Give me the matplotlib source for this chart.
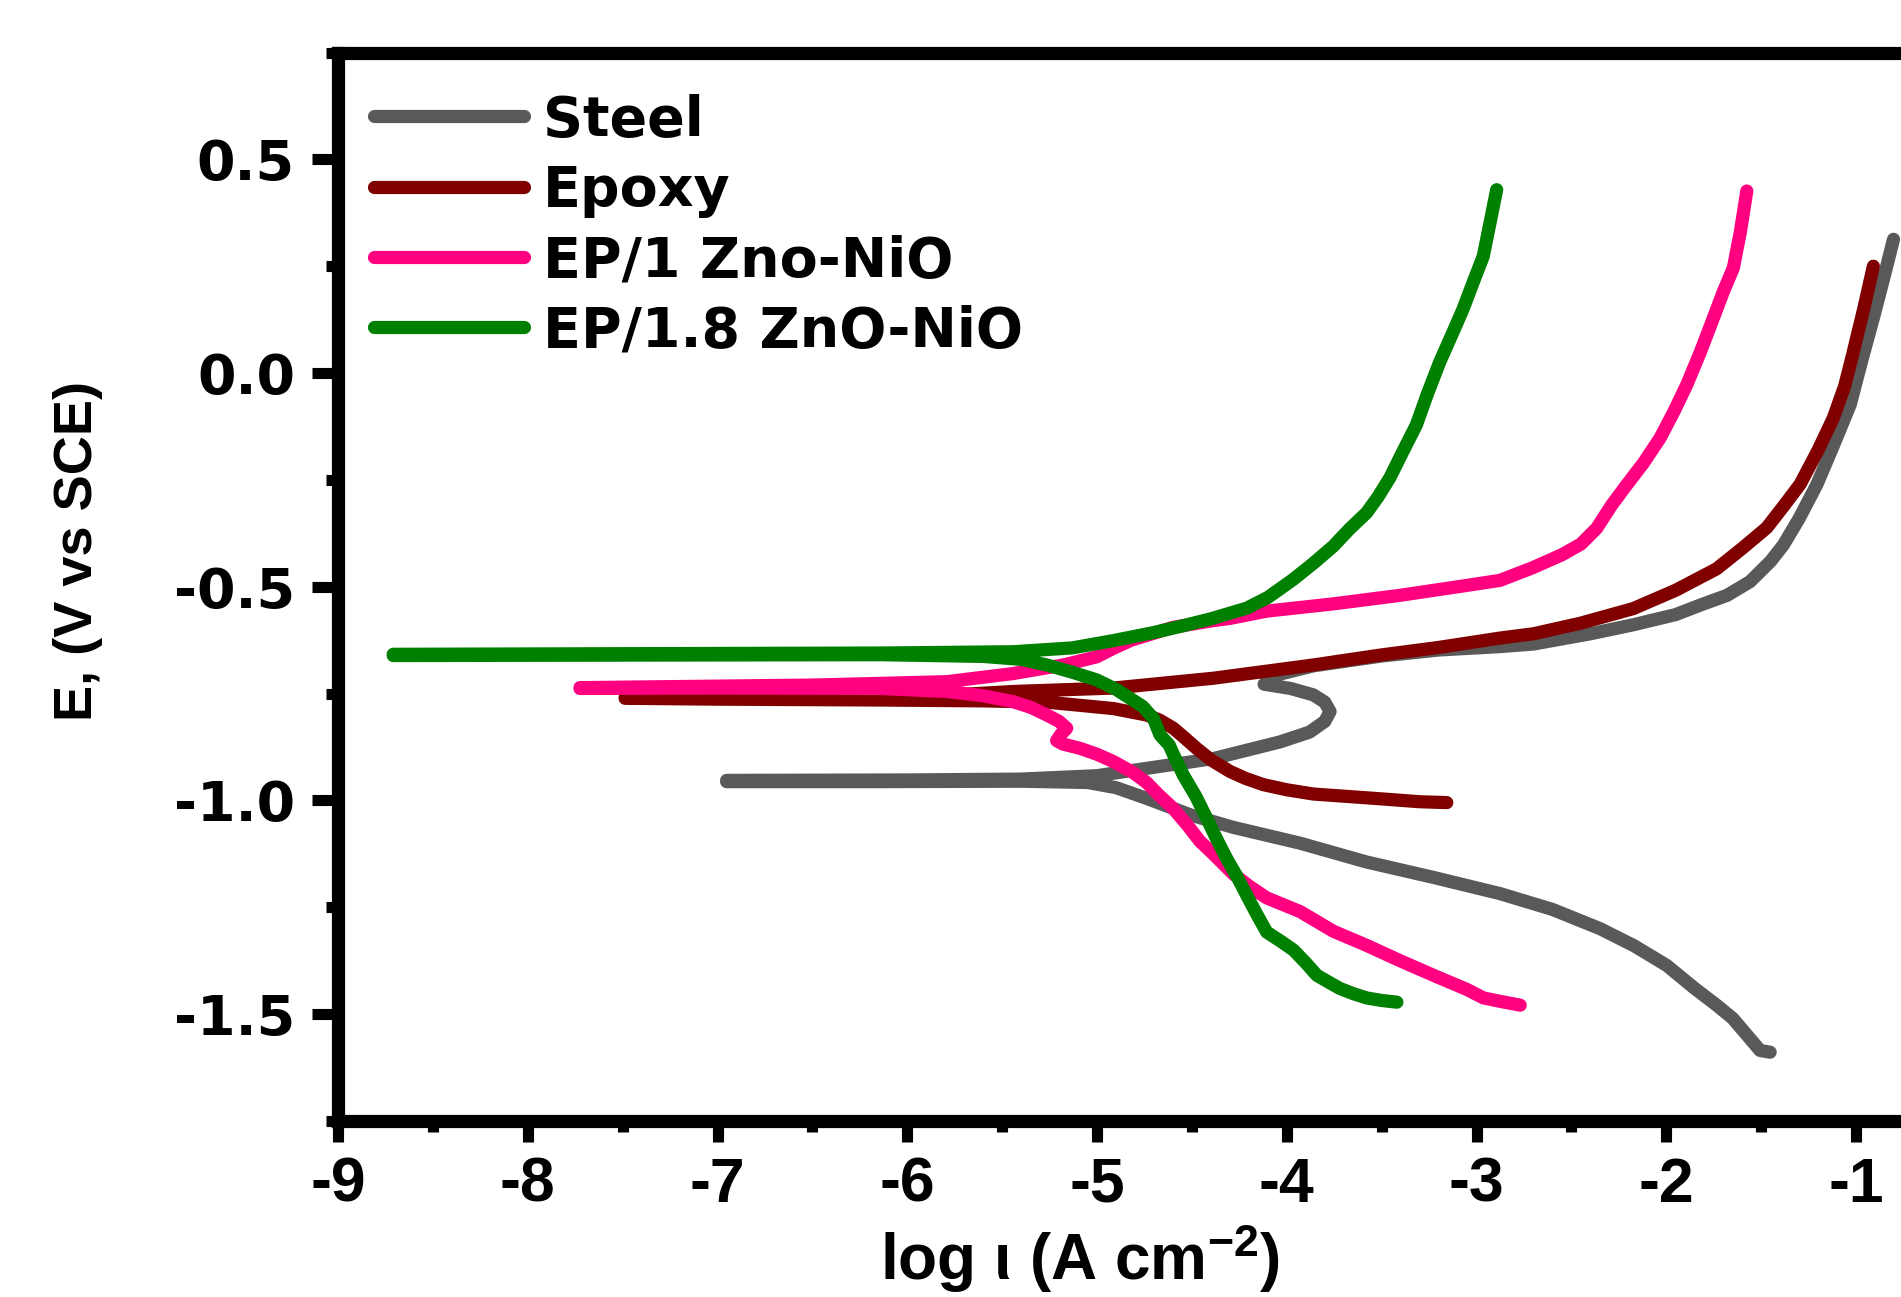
import matplotlib
matplotlib.use('Agg')
import matplotlib.pyplot as plt
from matplotlib.ticker import MultipleLocator, FormatStrFormatter

plt.rcParams['axes.unicode_minus'] = False
plt.rcParams['mathtext.fontset'] = 'custom'
plt.rcParams['mathtext.rm'] = 'Liberation Sans:bold'
plt.rcParams['mathtext.it'] = 'Liberation Sans:bold'
plt.rcParams['mathtext.bf'] = 'Liberation Sans:bold'

# Tafel curves: cathodic end -> left tip -> anodic end
labels = ['Steel', 'Epoxy', 'EP/1 Zno-NiO', 'EP/1.8 ZnO-NiO']
colors = ['#595959', '#800000', '#ff0080', '#008000']

steel_x = [-1.453, -1.506, -1.558, -1.65, -1.735, -1.85, -1.998, -2.17, -2.349, -2.6, -2.876,
           -3.228, -3.58, -3.93, -4.282, -4.5, -4.74, -4.9, -5.05, -5.4, -6.14, -6.952,
           -6.952, -6.0, -5.4, -5.0, -4.74, -4.387, -4.036, -3.88, -3.80, -3.772, -3.80,
           -3.86, -3.98, -4.12, -4.05, -3.86, -3.5, -3.2, -2.876, -2.70, -2.4, -2.175,
           -1.95, -1.822, -1.68, -1.559, -1.45, -1.383, -1.30, -1.207, -1.12, -1.031,
           -0.97, -0.909, -0.85, -0.803]
steel_y = [-1.589, -1.585, -1.558, -1.51, -1.479, -1.44, -1.386, -1.34, -1.30, -1.255, -1.218,
           -1.18, -1.144, -1.100, -1.063, -1.035, -0.995, -0.97, -0.958, -0.955, -0.956, -0.956,
           -0.953, -0.952, -0.950, -0.942, -0.925, -0.902, -0.863, -0.84, -0.815, -0.792, -0.77,
           -0.753, -0.738, -0.728, -0.706, -0.685, -0.662, -0.648, -0.640, -0.634, -0.610, -0.589,
           -0.565, -0.543, -0.52, -0.488, -0.44, -0.402, -0.34, -0.261, -0.17, -0.074,
           0.03, 0.129, 0.23, 0.313]

epoxy_x = [-3.157, -3.3, -3.51, -3.7, -3.86, -4.0, -4.124, -4.22, -4.30, -4.40, -4.476, -4.54,
           -4.598, -4.67, -4.74, -4.914, -5.1, -5.265, -5.6, -6.14, -7.0, -7.487,
           -7.487, -6.5, -5.8, -5.441, -4.914, -4.387, -3.86, -3.51, -3.2, -2.876, -2.70,
           -2.45, -2.174, -1.95, -1.735, -1.60, -1.471, -1.38, -1.295, -1.20, -1.12, -1.06,
           -1.014, -0.96, -0.909]
epoxy_y = [-1.005, -1.003, -0.996, -0.99, -0.985, -0.975, -0.963, -0.948, -0.932, -0.905, -0.878, -0.853,
           -0.831, -0.812, -0.800, -0.785, -0.777, -0.770, -0.767, -0.765, -0.763, -0.761,
           -0.759, -0.758, -0.754, -0.745, -0.737, -0.714, -0.683, -0.660, -0.642, -0.620, -0.610,
           -0.585, -0.551, -0.508, -0.458, -0.41, -0.362, -0.31, -0.260, -0.18, -0.105, -0.03,
           0.051, 0.15, 0.250]

ep1_x = [-2.77, -2.876, -2.964, -3.052, -3.228, -3.403, -3.58, -3.755, -3.93, -4.106, -4.20,
         -4.282, -4.388, -4.459, -4.52, -4.598, -4.68, -4.739, -4.809, -4.914, -5.0, -5.09,
         -5.18, -5.213, -5.19, -5.16, -5.20, -5.265, -5.35, -5.441, -5.6, -5.79, -6.14, -7.0, -7.725,
         -7.725, -6.5, -6.14, -5.79, -5.441, -5.178, -5.002, -4.914, -4.82, -4.6, -4.4, -4.30,
         -4.106, -3.755, -3.403, -3.054, -2.876, -2.702, -2.55, -2.45, -2.367, -2.29, -2.208,
         -2.12, -2.033, -1.96, -1.892, -1.82, -1.752, -1.70, -1.647, -1.61, -1.576]
ep1_y = [-1.479, -1.470, -1.462, -1.442, -1.409, -1.375, -1.339, -1.306, -1.26, -1.228, -1.20,
         -1.172, -1.125, -1.095, -1.06, -1.019, -0.985, -0.958, -0.935, -0.909, -0.892, -0.878,
         -0.868, -0.860, -0.845, -0.831, -0.815, -0.800, -0.782, -0.769, -0.755, -0.745, -0.738, -0.737, -0.738,
         -0.736, -0.730, -0.726, -0.722, -0.703, -0.683, -0.664, -0.644, -0.625, -0.595, -0.580, -0.574,
         -0.557, -0.540, -0.520, -0.497, -0.485, -0.455, -0.425, -0.400, -0.363, -0.31, -0.261,
         -0.21, -0.152, -0.09, -0.027, 0.05, 0.129, 0.19, 0.246, 0.33, 0.426]

ep18_x = [-3.42, -3.50, -3.58, -3.65, -3.72, -3.78, -3.842, -3.90, -3.965, -4.03, -4.106,
          -4.16, -4.211, -4.26, -4.317, -4.37, -4.422, -4.48, -4.545, -4.60, -4.62, -4.668,
          -4.703, -4.76, -4.826, -4.90, -5.002, -5.13, -5.265, -5.40, -5.6, -6.14, -7.5, -8.709,
          -8.709, -7.0, -6.14, -5.441, -5.13, -4.914, -4.70, -4.563, -4.40, -4.211, -4.10,
          -3.967, -3.86, -3.755, -3.67, -3.58, -3.52, -3.457, -3.39, -3.317, -3.26, -3.194,
          -3.13, -3.071, -3.02, -2.965, -2.93, -2.894]
ep18_y = [-1.472, -1.468, -1.462, -1.452, -1.440, -1.425, -1.409, -1.38, -1.350, -1.33, -1.308,
          -1.265, -1.222, -1.18, -1.136, -1.09, -1.042, -0.99, -0.941, -0.89, -0.87, -0.847,
          -0.808, -0.78, -0.761, -0.74, -0.718, -0.70, -0.683, -0.670, -0.663, -0.659, -0.660, -0.661,
          -0.658, -0.656, -0.655, -0.652, -0.643, -0.626, -0.607, -0.593, -0.575, -0.550, -0.525,
          -0.483, -0.445, -0.405, -0.365, -0.327, -0.29, -0.245, -0.185, -0.121, -0.05, 0.026,
          0.09, 0.150, 0.21, 0.273, 0.35, 0.429]

xs = [steel_x, epoxy_x, ep1_x, ep18_x]
ys = [steel_y, epoxy_y, ep1_y, ep18_y]

fig = plt.figure(figsize=(19.01, 12.97), dpi=100)
ax = fig.add_axes([0.1778, 0.1357, 0.8485, 0.8238])

for x, y, c, lab in zip(xs, ys, colors, labels):
    ax.plot(x, y, color=c, lw=9.5, label=lab,
            solid_capstyle='round', solid_joinstyle='round')

ax.set_xlim(-9, -0.5)
ax.set_ylim(-1.75, 0.75)
ax.set_xticks(range(-9, 0))
ax.xaxis.set_minor_locator(MultipleLocator(0.5))
ax.set_yticks([-1.5, -1.0, -0.5, 0.0, 0.5])
ax.yaxis.set_minor_locator(MultipleLocator(0.25))
ax.yaxis.set_major_formatter(FormatStrFormatter('%.1f'))

for sp in ax.spines.values():
    sp.set_linewidth(9.5)

ax.tick_params(axis='x', which='major', direction='out', length=15, width=8, pad=10)
ax.tick_params(axis='x', which='minor', direction='out', length=8, width=8)
ax.tick_params(axis='y', which='major', direction='out', length=19, width=8, pad=12)
ax.tick_params(axis='y', which='minor', direction='out', length=9, width=8)

plt.setp(ax.get_xticklabels(), family='Liberation Sans', weight='bold', size=45)
plt.setp(ax.get_yticklabels(), family='DejaVu Sans', weight='bold', size=40)

ax.set_xlabel('log ι (A cm$^{-2}$)', family='Liberation Sans', weight='bold', size=46)
ax.xaxis.set_label_coords(0.46, -0.0945)
ax.set_ylabel('E, (V vs SCE)', family='Liberation Sans', weight='bold', size=39)
ax.yaxis.set_label_coords(-0.1457, 0.5335)

ax.legend(loc='upper left', bbox_to_anchor=(0.197, 0.9276), bbox_transform=fig.transFigure,
          frameon=False, borderpad=0, borderaxespad=0, handlelength=2.69,
          handletextpad=0.34, labelspacing=0.29,
          prop={'family': 'DejaVu Sans', 'weight': 'bold', 'size': 40})

fig.savefig('out.png', dpi=100)
